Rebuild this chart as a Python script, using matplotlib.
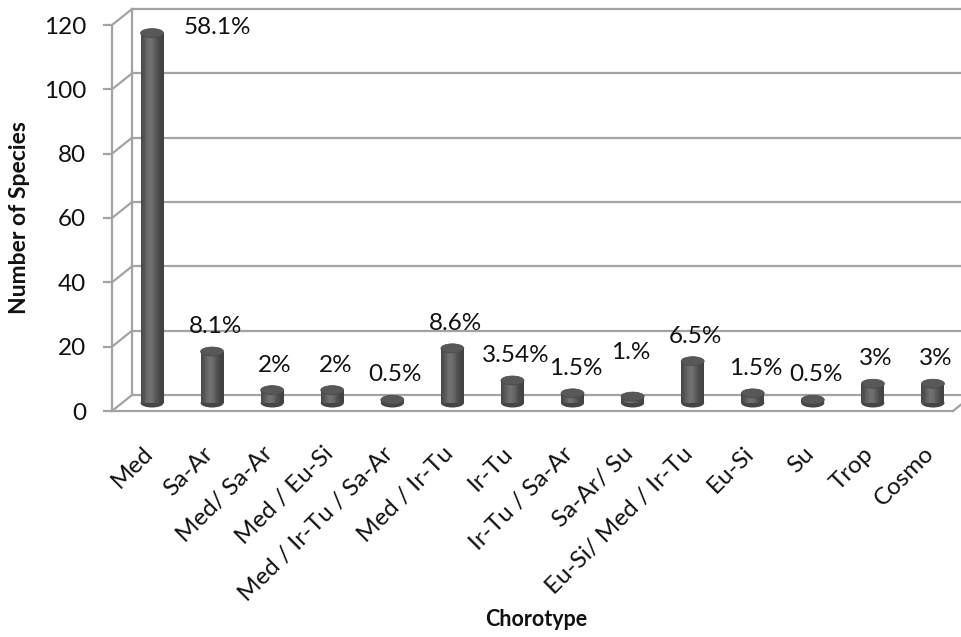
import numpy as np
import matplotlib.pyplot as plt
from matplotlib.patches import Ellipse
from matplotlib.transforms import ScaledTranslation

# %% Daten

chorotypes = ["Med", "Sa-Ar", "Med/ Sa-Ar", "Med / Eu-Si", "Med / Ir-Tu / Sa-Ar",
              "Med / Ir-Tu", "Ir-Tu", "Ir-Tu / Sa-Ar", "Sa-Ar/ Su",
              "Eu-Si/ Med / Ir-Tu", "Eu-Si", "Su", "Trop", "Cosmo"]
species = [115, 16, 4, 4, 1, 17, 7, 3, 2, 13, 3, 1, 6, 6]
percent_labels = ["58.1%", "8.1%", "2%", "2%", "0.5%", "8.6%", "3.54%", "1.5%",
                  "1.%", "6.5%", "1.5%", "0.5%", "3%", "3%"]
y_ticks = [0, 20, 40, 60, 80, 100, 120]

# %% Layout

plt.rcParams["font.family"] = ["Lato", "DejaVu Sans"]
grid_col = "#a3a3a3"
grid_lw = 1.6
text_col = "#111111"

fig = plt.figure(figsize=(9.62, 6.37), dpi=100)
ax = fig.add_axes([112 / 962, 226 / 637, 841 / 962, 386 / 637])
ax.set_xlim(-0.5, len(chorotypes) - 0.5)
ax.set_ylim(0, 120)
ax.patch.set_visible(False)

# 3D-Versatz: Rueckwand und Saeulenmitte (in Zoll)
back = ax.transData + ScaledTranslation(0.20, 0.16, fig.dpi_scale_trans)
mid = ax.transData + ScaledTranslation(0.10, 0.08, fig.dpi_scale_trans)

x0, x1 = -0.5, len(chorotypes) - 0.5


def diagonal(x, v):
    # Linie von der Vorderkante zur Rueckwand
    p_front = ax.transData.transform((x, v))
    p_back = back.transform((x, v))
    fig.add_artist(plt.Line2D([p_front[0], p_back[0]], [p_front[1], p_back[1]],
                              transform=None, color=grid_col, lw=grid_lw, zorder=1))


# Rueckwand mit Gitterlinien, linke Seitenwand
for v in y_ticks:
    ax.plot([x0, x1 + 1], [v, v], color=grid_col, lw=grid_lw, transform=back,
            clip_on=False, zorder=1)
    diagonal(x0, v)
ax.plot([x0, x0], [0, 120], color=grid_col, lw=grid_lw, transform=back,
        clip_on=False, zorder=1)

# Boden rechts
diagonal(x1, 0)

# %% Zylinder

bar_w = 0.383
ell_h = 2.8
n_strip = 28
t = (np.arange(n_strip) + 0.5) / n_strip
shade = 0.25 + 0.19 * np.exp(-((t - 0.42) / 0.3) ** 2)
strip_cols = [(s, s, s) for s in shade]

for i, v in enumerate(species):
    xs = i - bar_w / 2 + t * bar_w
    ax.add_patch(Ellipse((i, 0), bar_w, ell_h, facecolor="#454545",
                         edgecolor="none", transform=mid, zorder=3, clip_on=False))
    ax.bar(xs, v, width=bar_w / n_strip * 1.05, color=strip_cols, linewidth=0,
           transform=mid, zorder=4, clip_on=False)
    ax.add_patch(Ellipse((i, v), bar_w, ell_h, facecolor="#585858",
                         edgecolor="#474747", lw=0.5, transform=mid, zorder=5,
                         clip_on=False))

# Prozent-Beschriftungen
label_shift = {"Med": (65, 6), "Sa-Ar/ Su": (-2, 44)}
for i, (name, v, lab) in enumerate(zip(chorotypes, species, percent_labels)):
    dx, dy = label_shift.get(name, (3, 25))
    ax.annotate(lab, (i, v), xycoords=mid, xytext=(dx, dy),
                textcoords="offset pixels", ha="center", va="center",
                fontsize=17.5, color=text_col, zorder=6, annotation_clip=False)

# %% Achsen

for side in ["top", "right"]:
    ax.spines[side].set_visible(False)
for side in ["left", "bottom"]:
    ax.spines[side].set_color(grid_col)
    ax.spines[side].set_linewidth(grid_lw)
    ax.spines[side].set_zorder(2)

ax.set_yticks(y_ticks)
ax.tick_params(axis="y", length=6.5, width=grid_lw, color=grid_col, pad=12,
               labelsize=17.5, labelcolor=text_col)
ax.set_xticks(range(len(chorotypes)))
ax.set_xticklabels(chorotypes, rotation=45, ha="right", va="top",
                   rotation_mode="anchor", fontsize=17.5, color=text_col)
ax.tick_params(axis="x", length=0, pad=23)

ax.set_ylabel("Number of Species", fontsize=16.5, fontweight="bold", labelpad=10,
              color=text_col)
fig.text(536 / 962, 1 - 620 / 637, "Chorotype", ha="center", va="center",
         fontsize=15.5, fontweight="bold", color=text_col)

fig.savefig("out.png", dpi=100)
